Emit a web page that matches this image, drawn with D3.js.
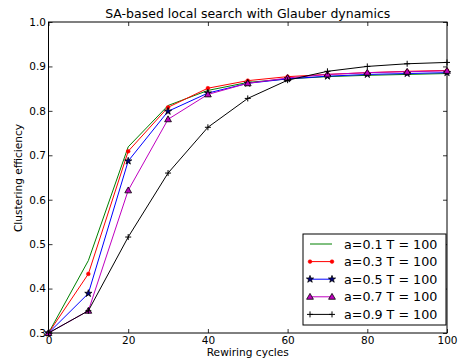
<!DOCTYPE html>
<html lang="en">
<head>
  <meta charset="UTF-8">
  <title>SA-based local search with Glauber dynamics</title>
  <style>
    * { margin: 0; padding: 0; box-sizing: border-box; }
    body { background: #fff; font-family: "DejaVu Sans", sans-serif; }
    svg text { font-family: "DejaVu Sans", sans-serif; fill: #000; }
  </style>
</head>
<body>
  <div id="chart"></div>
  <script src="https://d3js.org/d3.v7.min.js"></script>
  <script>
    // data
    var cycles = [0, 10, 20, 30, 40, 50, 60, 70, 80, 90, 100];
    var a01 = [0.300, 0.463, 0.719, 0.812, 0.846, 0.864, 0.872, 0.877, 0.880, 0.882, 0.884];
    var a03 = [0.300, 0.433, 0.709, 0.808, 0.851, 0.868, 0.877, 0.882, 0.886, 0.889, 0.891];
    var a05 = [0.300, 0.389, 0.687, 0.799, 0.840, 0.862, 0.872, 0.878, 0.882, 0.884, 0.886];
    var a07 = [0.300, 0.350, 0.621, 0.781, 0.837, 0.862, 0.874, 0.882, 0.886, 0.888, 0.890];
    var a09 = [0.300, 0.350, 0.516, 0.660, 0.763, 0.828, 0.869, 0.889, 0.900, 0.906, 0.909];
    var labels = ["a=0.1 T = 100", "a=0.3 T = 100", "a=0.5 T = 100", "a=0.7 T = 100", "a=0.9 T = 100"];
    var xTicks = [0, 20, 40, 60, 80, 100];
    var yTicks = [0.3, 0.4, 0.5, 0.6, 0.7, 0.8, 0.9, 1.0];

    var series = [
      {label: labels[0], values: a01, color: "#008000", marker: "none"},
      {label: labels[1], values: a03, color: "#ff0000", marker: "dot"},
      {label: labels[2], values: a05, color: "#0000ff", marker: "star"},
      {label: labels[3], values: a07, color: "#bf00bf", marker: "triangle"},
      {label: labels[4], values: a09, color: "#000000", marker: "plus"}
    ];

    var W = 459, H = 362;
    var margin = {top: 22, right: 12, bottom: 29, left: 48.5};
    var width = W - margin.left - margin.right;
    var height = H - margin.top - margin.bottom;

    var svg = d3.select("#chart").append("svg")
      .attr("width", W).attr("height", H);

    var g = svg.append("g")
      .attr("transform", "translate(" + margin.left + "," + margin.top + ")");

    var x = d3.scaleLinear().domain([0, 100]).range([0, width]);
    var y = d3.scaleLinear().domain([0.3, 1.0]).range([height, 0]);

    // axes, ticks inward on all sides
    var fmt = d3.format(".1f");
    g.append("g").attr("transform", "translate(0," + height + ")")
      .call(d3.axisBottom(x).tickValues(xTicks).tickSizeInner(-4).tickSizeOuter(0).tickPadding(3.5));
    g.append("g")
      .call(d3.axisTop(x).tickValues(xTicks).tickSizeInner(-4).tickSizeOuter(0).tickFormat(""));
    g.append("g")
      .call(d3.axisLeft(y).tickValues(yTicks).tickSizeInner(-4).tickSizeOuter(0).tickPadding(2.5).tickFormat(fmt));
    g.append("g").attr("transform", "translate(" + width + ",0)")
      .call(d3.axisRight(y).tickValues(yTicks).tickSizeInner(-4).tickSizeOuter(0).tickFormat(""));

    g.selectAll(".domain").remove();
    g.selectAll(".tick line").attr("stroke", "#000").attr("stroke-width", 0.8);
    g.selectAll(".tick text").style("font-size", "10.5px");

    // frame
    g.append("rect").attr("width", width).attr("height", height)
      .attr("fill", "none").attr("stroke", "#000").attr("stroke-width", 1);

    var line = d3.line()
      .x(function(d, i) { return x(cycles[i]); })
      .y(function(d) { return y(d); });

    function drawMarker(sel, s, px, py) {
      if (s.marker == "dot") {
        sel.append("circle").attr("cx", px).attr("cy", py).attr("r", 1.9)
          .attr("fill", s.color).attr("stroke", s.color).attr("stroke-width", 0.5);
      } else if (s.marker == "star") {
        sel.append("path").attr("d", d3.symbol().type(d3.symbolStar).size(16)())
          .attr("transform", "translate(" + px + "," + py + ")")
          .attr("fill", "#000080").attr("stroke", "#000").attr("stroke-width", 0.8);
      } else if (s.marker == "triangle") {
        sel.append("path").attr("d", d3.symbol().type(d3.symbolTriangle).size(20)())
          .attr("transform", "translate(" + px + "," + (py + 0.5) + ")")
          .attr("fill", s.color).attr("stroke", "#000").attr("stroke-width", 0.8);
      } else if (s.marker == "plus") {
        sel.append("path")
          .attr("d", "M" + (px - 3) + "," + py + "H" + (px + 3) + "M" + px + "," + (py - 3) + "V" + (py + 3))
          .attr("stroke", "#000").attr("stroke-width", 1);
      }
    }

    var plot = g.append("g");
    series.forEach(function(s) {
      plot.append("path").datum(s.values)
        .attr("d", line)
        .attr("fill", "none")
        .attr("stroke", s.color)
        .attr("stroke-width", 1);
      s.values.forEach(function(v, i) {
        drawMarker(plot, s, x(cycles[i]), y(v));
      });
    });

    // title and axis labels
    svg.append("text").attr("x", margin.left + width / 2).attr("y", 17.5)
      .attr("text-anchor", "middle").style("font-size", "12.5px")
      .text("SA-based local search with Glauber dynamics");
    svg.append("text").attr("x", margin.left + width / 2).attr("y", 356)
      .attr("text-anchor", "middle").style("font-size", "10.6px")
      .text("Rewiring cycles");
    svg.append("text")
      .attr("transform", "translate(22," + (margin.top + height / 2 + 0.5) + ")rotate(-90)")
      .attr("text-anchor", "middle").style("font-size", "10.6px")
      .text("Clustering efficiency");

    // legend
    var lx = 303 - margin.left, ly = 234 - margin.top, lw = 143, lh = 91;
    var legend = g.append("g");
    legend.append("rect").attr("x", lx).attr("y", ly).attr("width", lw).attr("height", lh)
      .attr("fill", "#fff").attr("stroke", "#000").attr("stroke-width", 1);
    series.forEach(function(s, i) {
      var cy = ly + 10 + i * 17.6;
      var x0 = lx + 7, x1 = lx + 29;
      legend.append("line").attr("x1", x0).attr("x2", x1).attr("y1", cy).attr("y2", cy)
        .attr("stroke", s.color).attr("stroke-width", 1);
      drawMarker(legend, s, x0, cy);
      drawMarker(legend, s, x1, cy);
      legend.append("text").attr("x", lx + 41).attr("y", cy + 4.5)
        .style("font-size", "12.7px").text(s.label);
    });
  </script>
</body>
</html>
